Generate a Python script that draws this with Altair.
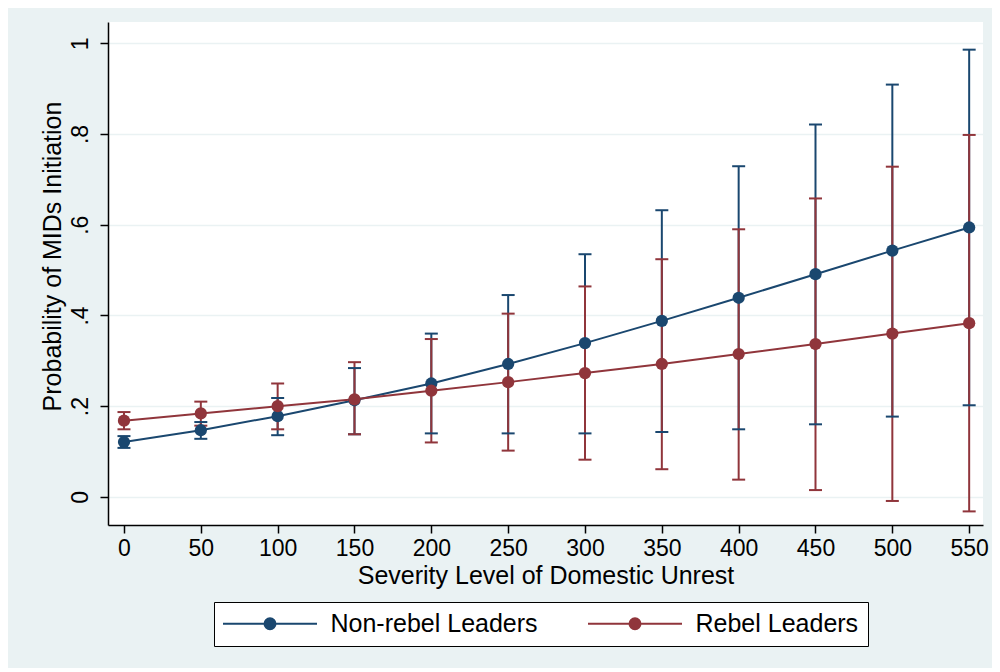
import altair as alt
import pandas as pd

severity = [0, 50, 100, 150, 200, 250, 300, 350, 400, 450, 500, 550]
series_names = ["Non-rebel Leaders", "Rebel Leaders"]

nonrebel_p = [0.121, 0.147, 0.178, 0.213, 0.250, 0.293, 0.339, 0.388, 0.439, 0.491, 0.543, 0.594]
nonrebel_lo = [0.108, 0.128, 0.136, 0.138, 0.140, 0.140, 0.140, 0.143, 0.149, 0.160, 0.177, 0.202]
nonrebel_hi = [0.134, 0.165, 0.218, 0.284, 0.360, 0.445, 0.535, 0.632, 0.729, 0.821, 0.909, 0.986]

rebel_p = [0.168, 0.184, 0.200, 0.215, 0.234, 0.253, 0.273, 0.293, 0.315, 0.337, 0.360, 0.383]
rebel_lo = [0.149, 0.157, 0.149, 0.138, 0.120, 0.102, 0.082, 0.061, 0.038, 0.015, -0.009, -0.032]
rebel_hi = [0.187, 0.210, 0.250, 0.297, 0.348, 0.404, 0.464, 0.524, 0.590, 0.658, 0.728, 0.798]

y_ticks = [0, 0.2, 0.4, 0.6, 0.8, 1.0]
x_ticks = severity

rows = []
for name, p, lo, hi in [
    (series_names[0], nonrebel_p, nonrebel_lo, nonrebel_hi),
    (series_names[1], rebel_p, rebel_lo, rebel_hi),
]:
    for i, xv in enumerate(severity):
        rows.append({"series": name, "order": series_names.index(name), "x": xv,
                     "p": p[i], "lo": lo[i], "hi": hi[i]})
df = pd.DataFrame(rows)

BLUE = "#1a476f"
RED = "#90353b"
BG = "#eaf2f3"
FONT = "Liberation Sans"

color_scale = alt.Scale(domain=series_names, range=[BLUE, RED])

xenc = alt.X("x:Q", scale=alt.Scale(domain=[-10.4, 559], nice=False, zero=False),
             axis=alt.Axis(values=x_ticks, title="Severity Level of Domestic Unrest",
                           grid=False, labelPadding=4, titlePadding=3, labelFlush=False))
yaxis = alt.Axis(values=y_ticks, title="Probability of MIDs Initiation",
                 grid=True, gridColor=BG, gridWidth=1.5,
                 labelAngle=270, labelAlign="center", labelBaseline="bottom",
                 labelPadding=8, titlePadding=4, titleY=234,
                 labelExpr="datum.value < 0.01 ? '0' : (datum.value > 0.99 ? '1' : '.' + format(datum.value * 10, '.0f'))")
yscale = alt.Scale(domain=[-0.062, 1.047], nice=False, zero=False)

base = alt.Chart(df)
col = alt.Color("series:N", scale=color_scale)

rules = base.mark_rule(strokeWidth=2).encode(
    x=xenc,
    y=alt.Y("lo:Q", scale=yscale, axis=yaxis),
    y2="hi:Q",
    color=col,
    order="order:Q",
)
cap_lo = base.mark_tick(orient="horizontal", size=13, thickness=2, opacity=1).encode(
    x="x:Q", y="lo:Q", color=col,
)
cap_hi = base.mark_tick(orient="horizontal", size=13, thickness=2, opacity=1).encode(
    x="x:Q", y="hi:Q", color=col,
)

# legend symbol: a line with a dot (dot built from concentric rings so it is solid with stroke only)
rings = ""
for r in [0.55, 0.4, 0.25, 0.1]:
    rings += "M%.2f,0a%.2f,%.2f 0 1,0 %.2f,0a%.2f,%.2f 0 1,0 %.2f,0" % (-r, r, r, 2 * r, r, r, -2 * r)
legend_path = "M-4.7,0H4.7" + rings

leg = alt.Legend(title=None, orient="none", legendX=106, legendY=580,
                 direction="horizontal", symbolType=legend_path, symbolSize=400,
                 symbolStrokeWidth=2, symbolOffset=34.5, labelOffset=48,
                 labelLimit=500, columnPadding=46, padding=9,
                 strokeColor="black", fillColor="white",
                 labelFontSize=25, labelFont=FONT, labelColor="black",
                 symbolOpacity=1)
lines = base.mark_line(strokeWidth=2).encode(
    x="x:Q", y="p:Q",
    color=alt.Color("series:N", scale=color_scale, legend=leg),
    detail="series:N",
)
points = base.mark_point(filled=True, size=150, opacity=1).encode(
    x="x:Q", y="p:Q", color=col,
)

chart = alt.layer(rules, cap_lo, cap_hi, lines, points).properties(
    width=875, height=503,
    autosize=alt.AutoSizeParams(type="none"),
    padding={"left": 100, "top": 14, "right": 9, "bottom": 143},
    background=BG,
).configure_view(
    fill="white", stroke=None
).configure_legend(
    disable=True
).configure_axis(
    labelFont=FONT, labelFontSize=23, labelColor="black",
    titleFont=FONT, titleFontSize=25, titleFontWeight="normal", titleColor="black",
    domainColor="black", domainWidth=1.5, tickColor="black", tickSize=8, tickWidth=1.5,
)

chart.save("out.html", embed_options={"renderer": "svg", "actions": False})
